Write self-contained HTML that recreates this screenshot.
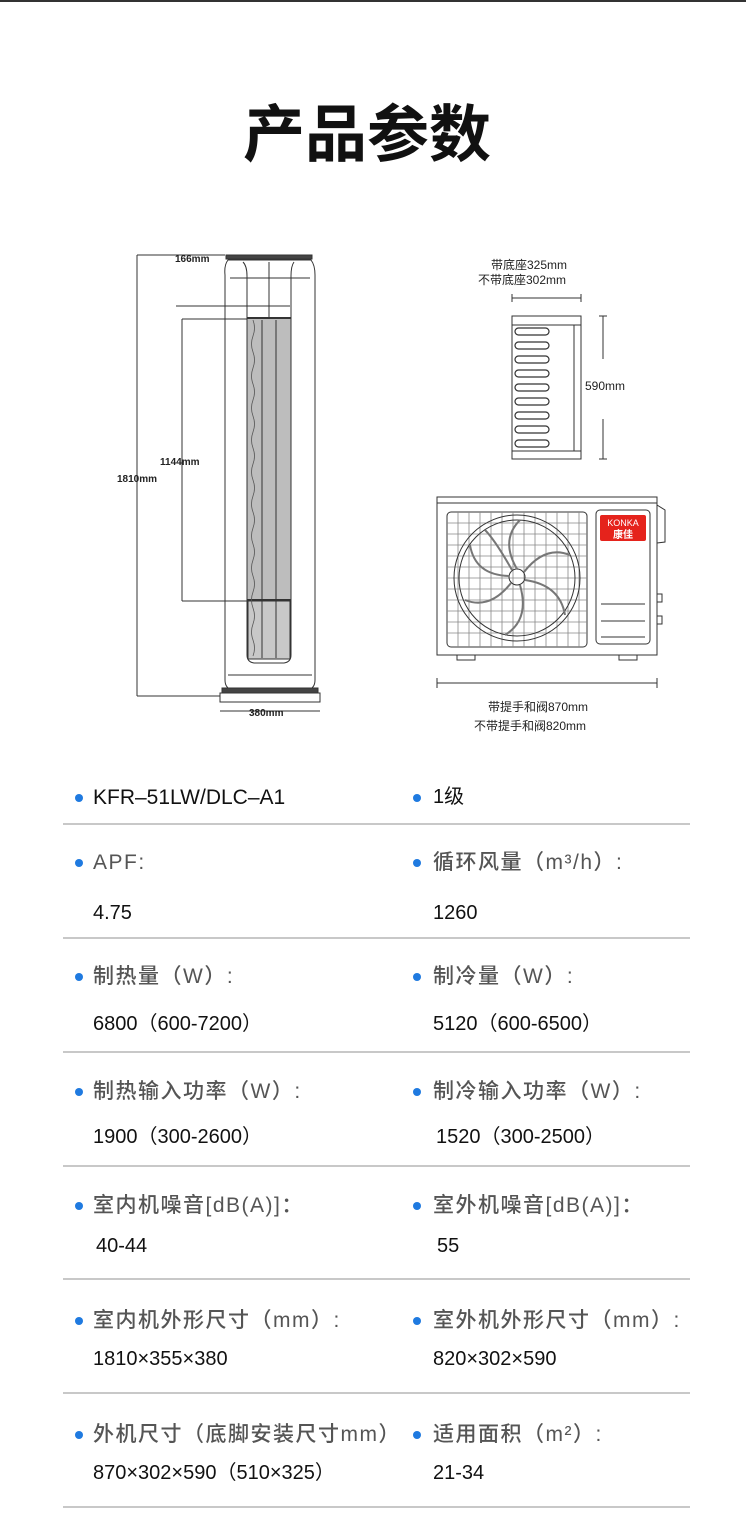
<!DOCTYPE html>
<html><head><meta charset="utf-8"><style>
body{margin:0;width:746px;height:1537px;background:#fff;position:relative;overflow:hidden;font-family:"Liberation Sans","Noto Sans CJK SC",sans-serif}
.t{position:absolute;white-space:nowrap;line-height:1}
.lab{font-size:21px;color:#555;letter-spacing:1.5px;font-weight:500}
.val{font-size:20px;color:#111}
.dot{position:absolute;width:8px;height:8px;border-radius:50%;background:#1f7ae0}
.hr{position:absolute;left:63px;width:627px;height:2px;background:#c8c8c8}
</style></head><body>
<div style="position:absolute;left:0;top:0;width:746px;height:2px;background:#333"></div>
<div class="t" style="left:-6px;width:746px;text-align:center;top:98px;font-size:62px;font-weight:bold;color:#111;font-family:'Noto Sans CJK SC',sans-serif">产品参数</div>

<svg style="position:absolute;left:0;top:0" width="746" height="760" font-family="Liberation Sans,Noto Sans CJK SC,sans-serif">
<g stroke="#333" fill="none" stroke-width="1">
 <line x1="137" y1="255" x2="137" y2="696"/><line x1="137" y1="255" x2="225" y2="255"/><line x1="137" y1="696" x2="220" y2="696"/>
 <line x1="182" y1="319" x2="182" y2="601"/><line x1="182" y1="319" x2="248" y2="319"/><line x1="182" y1="601" x2="248" y2="601"/>
 <line x1="176" y1="306" x2="290" y2="306"/>
 <rect x="226" y="255" width="86" height="4" fill="#444"/>
 <path d="M228 260 Q224 265 225 275 L225 680 Q225 688 232 690 L308 690 Q315 688 315 680 L315 275 Q315 265 311 260 Z"/>
 <line x1="230" y1="278" x2="310" y2="278"/>
 <path d="M243 262 Q247 266 247 276 L247 655 Q247 662 254 663 L284 663 Q291 662 291 655 L291 276 Q291 266 294 262"/>
 <line x1="269" y1="262" x2="269" y2="318"/>
 <rect x="247" y="318" width="44" height="282" fill="#bdbdbd"/>
 <line x1="247" y1="318" x2="291" y2="318" stroke-width="2"/><line x1="247" y1="600" x2="291" y2="600" stroke-width="2"/>
 <rect x="248" y="601" width="42" height="58" fill="#c8c8c8"/>
 <g stroke="#555" stroke-width="0.8">
 <path d="M253 320 q3 8 0 16 q-3 8 0 16 q3 8 0 16 q-3 8 0 16 q3 8 0 16 q-3 8 0 16 q3 8 0 16 q-3 8 0 16 q3 8 0 16 q-3 8 0 16 q3 8 0 16 q-3 8 0 16 q3 8 0 16 q-3 8 0 16 q3 8 0 16 q-3 8 0 16 q3 8 0 16 q-3 8 0 16 q3 8 0 16 q-3 8 0 16 q3 8 0 16"/>
 </g>
 <line x1="262" y1="320" x2="262" y2="658"/><line x1="276" y1="320" x2="276" y2="658"/>
 <line x1="228" y1="675" x2="312" y2="675"/>
 <rect x="222" y="688" width="96" height="5" fill="#444"/>
 <rect x="220" y="693" width="100" height="9"/>
 <line x1="220" y1="711" x2="320" y2="711"/>
 <line x1="512" y1="298" x2="581" y2="298"/><line x1="512" y1="294" x2="512" y2="302"/><line x1="581" y1="294" x2="581" y2="302"/>
 <rect x="512" y="316" width="69" height="143"/><line x1="512" y1="325" x2="581" y2="325"/><line x1="512" y1="451" x2="581" y2="451"/><line x1="574" y1="325" x2="574" y2="451"/>
 <line x1="603" y1="316" x2="603" y2="359"/><line x1="603" y1="419" x2="603" y2="459"/><line x1="599" y1="316" x2="607" y2="316"/><line x1="599" y1="459" x2="607" y2="459"/>
 <g stroke-width="1.2">
 <rect x="515" y="328" width="34" height="7" rx="3.5"/><rect x="515" y="342" width="34" height="7" rx="3.5"/><rect x="515" y="356" width="34" height="7" rx="3.5"/><rect x="515" y="370" width="34" height="7" rx="3.5"/><rect x="515" y="384" width="34" height="7" rx="3.5"/><rect x="515" y="398" width="34" height="7" rx="3.5"/><rect x="515" y="412" width="34" height="7" rx="3.5"/><rect x="515" y="426" width="34" height="7" rx="3.5"/><rect x="515" y="440" width="34" height="7" rx="3.5"/>
 </g>
 <rect x="437" y="497" width="220" height="158"/><line x1="437" y1="503" x2="657" y2="503"/>
 <rect x="447" y="512" width="140" height="135" rx="4"/>
 <g stroke="#888" stroke-width="0.8">
 <path d="M458 512V647M469 512V647M480 512V647M491 512V647M502 512V647M513 512V647M524 512V647M535 512V647M546 512V647M557 512V647M568 512V647M579 512V647"/>
 <path d="M447 523H587M447 534H587M447 545H587M447 556H587M447 567H587M447 578H587M447 589H587M447 600H587M447 611H587M447 622H587M447 633H587"/>
 </g>
 <circle cx="517" cy="578" r="63"/><circle cx="517" cy="578" r="58"/><circle cx="517" cy="577" r="8"/>
 <g stroke="#777" stroke-width="2">
 <path d="M517 569 Q500 540 520 520"/><path d="M524 572 Q545 545 570 555"/><path d="M525 580 Q560 585 565 615"/><path d="M520 585 Q530 620 505 635"/><path d="M511 583 Q490 610 465 600"/><path d="M509 576 Q475 575 470 545"/><path d="M512 570 Q495 540 485 530"/>
 </g>
 <rect x="596" y="510" width="54" height="134" rx="4"/>
 <line x1="601" y1="604" x2="645" y2="604"/><line x1="601" y1="621" x2="645" y2="621"/><line x1="601" y1="637" x2="645" y2="637"/>
 <path d="M657 505 L665 510 L665 542 L657 543"/>
 <rect x="657" y="594" width="5" height="8"/><rect x="657" y="616" width="5" height="8"/>
 <rect x="457" y="655" width="18" height="5"/><rect x="619" y="655" width="18" height="5"/>
 <line x1="437" y1="683" x2="657" y2="683"/><line x1="437" y1="678" x2="437" y2="688"/><line x1="657" y1="678" x2="657" y2="688"/>
</g>
<rect x="600" y="515" width="46" height="26" rx="2" fill="#e5231c"/>
<text x="623" y="526" font-size="9" fill="#fff" text-anchor="middle">KONKA</text>
<text x="623" y="538" font-size="10" fill="#fff" text-anchor="middle" font-weight="bold">康佳</text>
<g font-size="10" font-weight="bold" fill="#222">
<text x="175" y="262">166mm</text><text x="160" y="465">1144mm</text><text x="117" y="482">1810mm</text><text x="249" y="716">380mm</text>
</g>
<g font-size="12" fill="#222">
<text x="491" y="269">带底座325mm</text><text x="478" y="284">不带底座302mm</text>
<text x="585" y="390">590mm</text>
<text x="488" y="711">带提手和阀870mm</text><text x="474" y="730">不带提手和阀820mm</text>
</g>
</svg>

<div class="dot" style="left:75px;top:794px"></div><div class="t val" style="left:93px;top:787px;font-size:21px">KFR–51LW/DLC–A1</div>
<div class="dot" style="left:413px;top:794px"></div><div class="t val" style="left:433px;top:787px">1级</div>
<div class="hr" style="top:823px"></div>

<div class="dot" style="left:75px;top:859px"></div><div class="t lab" style="left:93px;top:852px">APF:</div>
<div class="dot" style="left:413px;top:859px"></div><div class="t lab" style="left:433px;top:852px">循环风量（m³/h）:</div>
<div class="t val" style="left:93px;top:903px">4.75</div><div class="t val" style="left:433px;top:903px">1260</div>
<div class="hr" style="top:937px"></div>

<div class="dot" style="left:75px;top:973px"></div><div class="t lab" style="left:93px;top:966px">制热量（W）:</div>
<div class="dot" style="left:413px;top:973px"></div><div class="t lab" style="left:433px;top:966px">制冷量（W）:</div>
<div class="t val" style="left:93px;top:1014px">6800（600-7200）</div><div class="t val" style="left:433px;top:1014px">5120（600-6500）</div>
<div class="hr" style="top:1051px"></div>

<div class="dot" style="left:75px;top:1088px"></div><div class="t lab" style="left:93px;top:1081px">制热输入功率（W）:</div>
<div class="dot" style="left:413px;top:1088px"></div><div class="t lab" style="left:433px;top:1081px">制冷输入功率（W）:</div>
<div class="t val" style="left:93px;top:1127px">1900（300-2600）</div><div class="t val" style="left:436px;top:1127px">1520（300-2500）</div>
<div class="hr" style="top:1165px"></div>

<div class="dot" style="left:75px;top:1202px"></div><div class="t lab" style="left:93px;top:1195px">室内机噪音[dB(A)]：</div>
<div class="dot" style="left:413px;top:1202px"></div><div class="t lab" style="left:433px;top:1195px">室外机噪音[dB(A)]：</div>
<div class="t val" style="left:96px;top:1236px">40-44</div><div class="t val" style="left:437px;top:1236px">55</div>
<div class="hr" style="top:1278px"></div>

<div class="dot" style="left:75px;top:1317px"></div><div class="t lab" style="left:93px;top:1310px">室内机外形尺寸（mm）:</div>
<div class="dot" style="left:413px;top:1317px"></div><div class="t lab" style="left:433px;top:1310px">室外机外形尺寸（mm）:</div>
<div class="t val" style="left:93px;top:1349px">1810×355×380</div><div class="t val" style="left:433px;top:1349px">820×302×590</div>
<div class="hr" style="top:1392px"></div>

<div class="dot" style="left:75px;top:1431px"></div><div class="t lab" style="left:93px;top:1424px">外机尺寸（底脚安装尺寸mm）</div>
<div class="dot" style="left:413px;top:1431px"></div><div class="t lab" style="left:433px;top:1424px">适用面积（m²）:</div>
<div class="t val" style="left:93px;top:1463px">870×302×590（510×325）</div><div class="t val" style="left:433px;top:1463px">21-34</div>
<div class="hr" style="top:1506px"></div>
</body></html>
